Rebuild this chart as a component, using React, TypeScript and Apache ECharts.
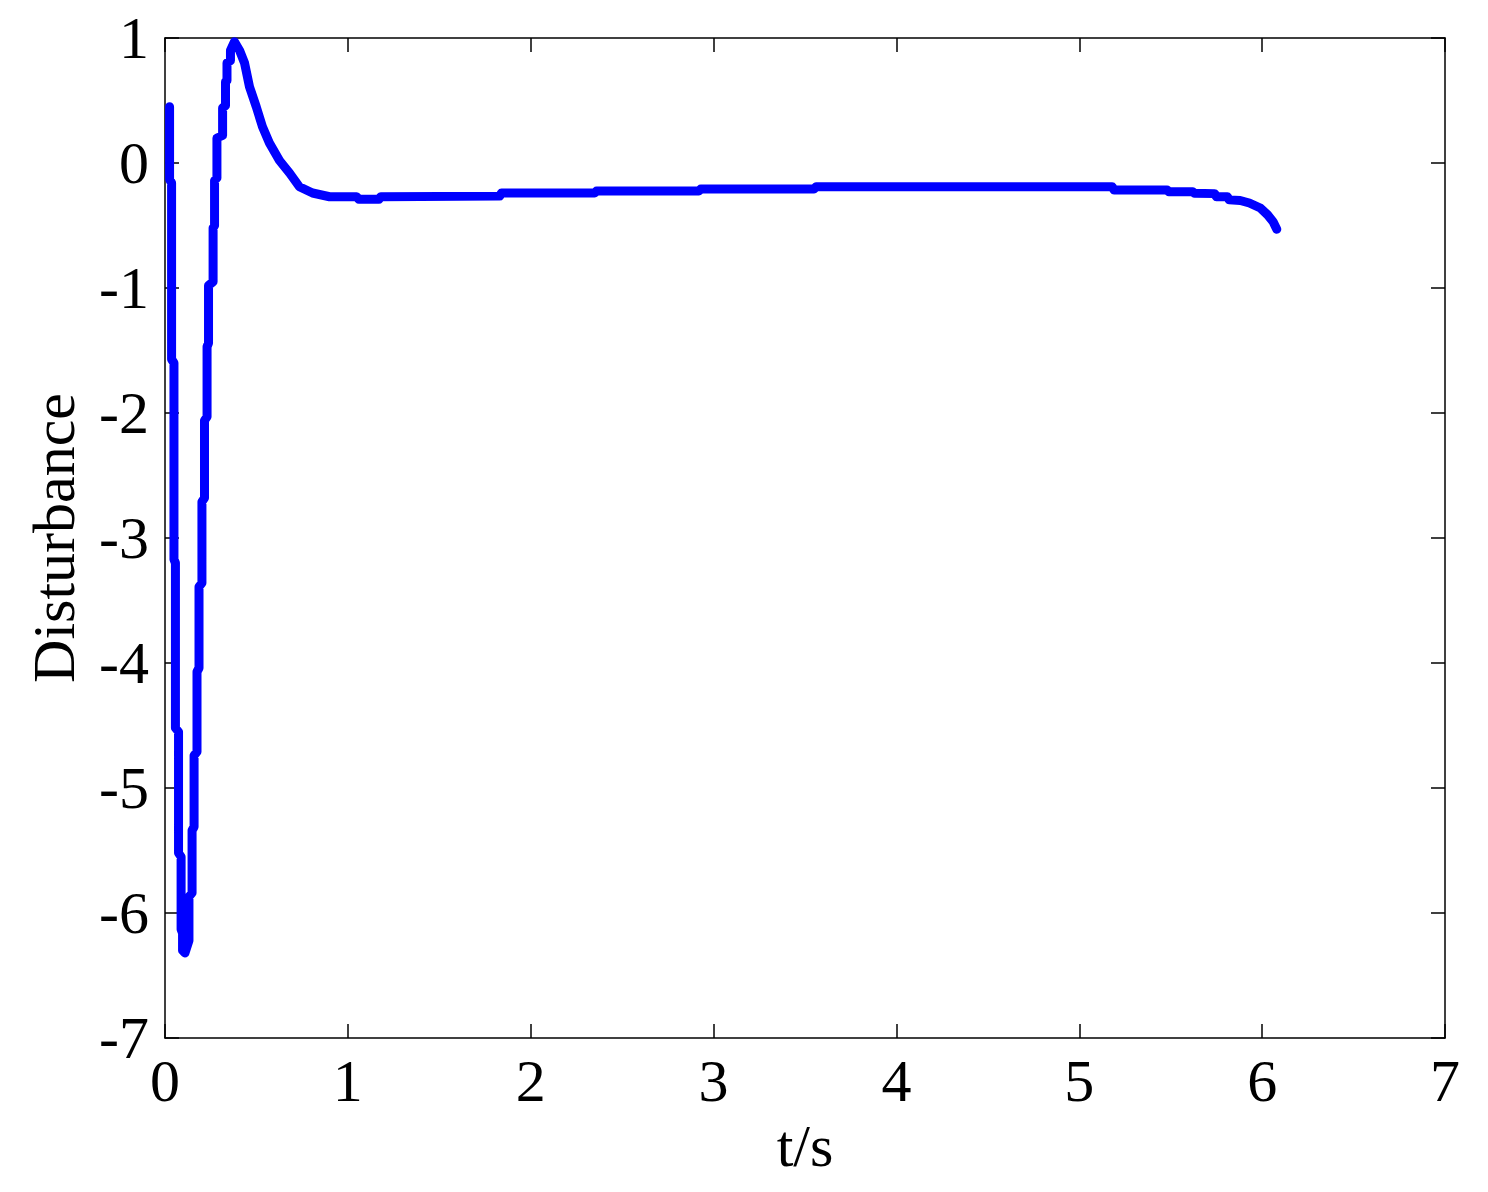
import React, { useEffect, useRef } from "react";
import * as echarts from "echarts";

const tValues: number[] = [
  0.025, 0.025, 0.036, 0.036, 0.049, 0.049, 0.057, 0.057, 0.074, 0.074, 0.088, 0.088,
  0.096, 0.096, 0.109, 0.131, 0.131, 0.148, 0.148, 0.159, 0.159, 0.175, 0.175, 0.186,
  0.186, 0.202, 0.202, 0.216, 0.216, 0.23, 0.23, 0.238, 0.238, 0.263, 0.263, 0.271,
  0.271, 0.284, 0.284, 0.315, 0.315, 0.331, 0.331, 0.339, 0.339, 0.358, 0.358, 0.38,
  0.408, 0.435, 0.462, 0.499, 0.533, 0.571, 0.626, 0.681, 0.735, 0.807, 0.9, 1.048,
  1.06, 1.17, 1.18, 1.83, 1.84, 2.35, 2.36, 2.92, 2.93, 3.55, 3.56, 5.18, 5.19, 5.48,
  5.49, 5.62, 5.63, 5.74, 5.75, 5.81, 5.82, 5.88, 5.93, 5.99, 6.03, 6.06, 6.08,
];

const disturbance: number[] = [
  0.45, -0.13, -0.16, -1.57, -1.6, -3.17, -3.2, -4.52, -4.55, -5.52, -5.55, -6.13,
  -6.16, -6.3, -6.32, -6.22, -5.87, -5.84, -5.34, -5.31, -4.74, -4.71, -4.07, -4.04,
  -3.39, -3.36, -2.71, -2.68, -2.06, -2.03, -1.47, -1.44, -0.98, -0.95, -0.52, -0.5,
  -0.14, -0.12, 0.2, 0.22, 0.44, 0.46, 0.65, 0.66, 0.8, 0.82, 0.9, 0.97,
  0.9, 0.8, 0.61, 0.45, 0.29, 0.16, 0.02, -0.08, -0.19, -0.24, -0.27, -0.27,
  -0.29, -0.29, -0.27, -0.265, -0.24, -0.24, -0.224, -0.224, -0.208, -0.208, -0.19, -0.19, -0.215, -0.215,
  -0.23, -0.23, -0.242, -0.245, -0.27, -0.27, -0.295, -0.3, -0.32, -0.36, -0.415, -0.47, -0.53,
];

const xName = "t/s";
const yName = "Disturbance";

export default function App() {
  const ref = useRef<HTMLDivElement>(null);
  useEffect(() => {
    if (!ref.current) return;
    const chart = echarts.init(ref.current, null, { renderer: "svg" });
    const font = "Liberation Serif";
    const data = tValues.map((t, i) => [t, disturbance[i]]);
    const axisCommon = {
      axisLine: { show: true, onZero: false, lineStyle: { color: "#000", width: 1.5 } },
      axisTick: { show: true, inside: true, length: 14, lineStyle: { color: "#000", width: 1.5 } },
      splitLine: { show: false },
    };
    chart.setOption({
      animation: false,
      backgroundColor: "#fff",
      grid: { left: 165, top: 38, right: 43, bottom: 154, containLabel: false },
      xAxis: [
        {
          ...axisCommon,
          type: "value",
          min: 0,
          max: 7,
          interval: 1,
          name: xName,
          nameLocation: "middle",
          nameGap: 72,
          nameTextStyle: { fontFamily: font, fontSize: 60, color: "#000" },
          axisLabel: { fontFamily: font, fontSize: 60, color: "#000", margin: 13 },
        },
        {
          ...axisCommon,
          type: "value",
          position: "top",
          min: 0,
          max: 7,
          interval: 1,
          axisLabel: { show: false },
        },
      ],
      yAxis: [
        {
          ...axisCommon,
          type: "value",
          min: -7,
          max: 1,
          interval: 1,
          name: yName,
          nameLocation: "middle",
          nameGap: 81,
          nameTextStyle: { fontFamily: font, fontSize: 60, color: "#000" },
          axisLabel: { fontFamily: font, fontSize: 60, color: "#000", margin: 16 },
        },
        {
          ...axisCommon,
          type: "value",
          position: "right",
          min: -7,
          max: 1,
          interval: 1,
          axisLabel: { show: false },
        },
      ],
      series: [
        {
          type: "line",
          data,
          showSymbol: false,
          lineStyle: { color: "#0000ff", width: 9, cap: "round", join: "round" },
          xAxisIndex: 0,
          yAxisIndex: 0,
        },
      ],
    });
    return () => chart.dispose();
  }, []);
  return (
    <div
      ref={ref}
      style={{ position: "absolute", left: 0, top: 0, width: 1488, height: 1192 }}
    />
  );
}
